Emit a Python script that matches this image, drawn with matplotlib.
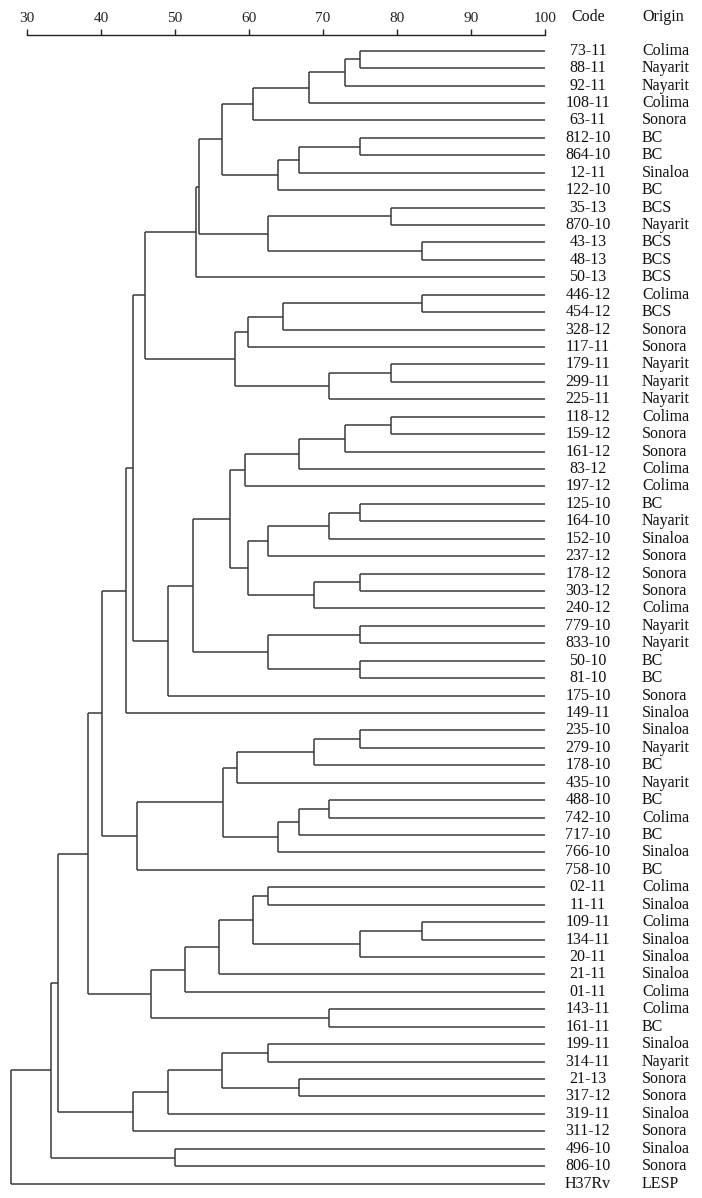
import matplotlib
matplotlib.use("Agg")
import matplotlib.pyplot as plt
from matplotlib import transforms

codes = ["73-11", "88-11", "92-11", "108-11", "63-11", "812-10", "864-10", "12-11",
         "122-10", "35-13", "870-10", "43-13", "48-13", "50-13", "446-12", "454-12",
         "328-12", "117-11", "179-11", "299-11", "225-11", "118-12", "159-12", "161-12",
         "83-12", "197-12", "125-10", "164-10", "152-10", "237-12", "178-12", "303-12",
         "240-12", "779-10", "833-10", "50-10", "81-10", "175-10", "149-11", "235-10",
         "279-10", "178-10", "435-10", "488-10", "742-10", "717-10", "766-10", "758-10",
         "02-11", "11-11", "109-11", "134-11", "20-11", "21-11", "01-11", "143-11",
         "161-11", "199-11", "314-11", "21-13", "317-12", "319-11", "311-12", "496-10",
         "806-10", "H37Rv"]

origins = ["Colima", "Nayarit", "Nayarit", "Colima", "Sonora", "BC", "BC", "Sinaloa",
           "BC", "BCS", "Nayarit", "BCS", "BCS", "BCS", "Colima", "BCS",
           "Sonora", "Sonora", "Nayarit", "Nayarit", "Nayarit", "Colima", "Sonora", "Sonora",
           "Colima", "Colima", "BC", "Nayarit", "Sinaloa", "Sonora", "Sonora", "Sonora",
           "Colima", "Nayarit", "Nayarit", "BC", "BC", "Sonora", "Sinaloa", "Sinaloa",
           "Nayarit", "BC", "Nayarit", "BC", "Colima", "BC", "Sinaloa", "BC",
           "Colima", "Sinaloa", "Colima", "Sinaloa", "Sinaloa", "Sinaloa", "Colima", "Colima",
           "BC", "Sinaloa", "Nayarit", "Sonora", "Sonora", "Sinaloa", "Sonora", "Sinaloa",
           "Sonora", "LESP"]

# linkage: children ids (< n_leaves -> leaf, else merge index + n_leaves), similarity (%)
merge_a = [0, 66, 67, 68, 5, 70, 71, 69, 9, 11, 74, 73, 77, 14, 79, 80, 18, 82, 81, 78,
           21, 86, 87, 88, 26, 90, 91, 30, 93, 92, 89, 33, 35, 97, 96, 100, 85, 102,
           39, 104, 105, 43, 107, 108, 106, 110, 103, 48, 50, 114, 113, 116, 117, 55,
           118, 112, 57, 59, 122, 124, 125, 121, 63, 127, 129]
merge_b = [1, 2, 3, 4, 6, 7, 8, 72, 10, 12, 75, 76, 13, 15, 16, 17, 19, 20, 83, 84,
           22, 23, 24, 25, 27, 28, 29, 31, 32, 94, 95, 34, 36, 98, 99, 37, 101, 38,
           40, 41, 42, 44, 45, 46, 109, 47, 111, 49, 51, 52, 115, 53, 54, 56,
           119, 120, 58, 60, 123, 61, 62, 126, 64, 128, 65]
merge_h = [75.0, 73.0, 68.1, 60.5, 75.0, 66.7, 63.9, 56.4, 79.25, 83.4, 62.5, 53.3, 52.9,
           83.4, 64.6, 59.8, 79.25, 70.85, 58.1, 45.9,
           79.25, 73.0, 66.7, 59.4, 75.0, 70.85, 62.5, 75.0, 68.8, 59.8, 57.4, 75.0, 75.0,
           62.5, 52.4, 49.0, 44.3, 43.4,
           75.0, 68.8, 58.4, 70.85, 66.7, 63.9, 56.5, 44.9, 40.2, 62.5, 83.4, 75.0,
           60.5, 55.9, 51.4, 70.85, 46.8, 38.3, 62.5, 66.7, 56.3, 49.0, 44.3, 34.2,
           50.0, 33.3, 27.8]

tick_values = [30, 40, 50, 60, 70, 80, 90, 100]

W, H = 702, 1198
fig = plt.figure(figsize=(W / 100, H / 100), dpi=100)
serif = ["Liberation Serif", "DejaVu Serif"]

# axes geometry (pixels)
x0_px, x1_px = 4.8, 545.0
y_top_px, y_bot_px = 35.0, 1195.0
ax = fig.add_axes([x0_px / W, 1 - y_bot_px / H, (x1_px - x0_px) / W, (y_bot_px - y_top_px) / H])
ax.set_xlim(27, 100)
spacing = 17.43
first_leaf_px = 50.7
ax.set_ylim((y_bot_px - first_leaf_px) / spacing, (y_top_px - first_leaf_px) / spacing)

n = len(codes)
xpos = {i: 100.0 for i in range(n)}
ypos = {i: float(i) for i in range(n)}
lc = "#3a3a3a"
lw = 1.1
for k, (a, b, h) in enumerate(zip(merge_a, merge_b, merge_h)):
    nid = n + k
    ya, yb = ypos[a], ypos[b]
    ax.plot([h, h], [ya, yb], color=lc, lw=lw, solid_capstyle="butt")
    ax.plot([h, xpos[a]], [ya, ya], color=lc, lw=lw, solid_capstyle="butt")
    ax.plot([h, xpos[b]], [yb, yb], color=lc, lw=lw, solid_capstyle="butt")
    xpos[nid] = h
    ypos[nid] = (ya + yb) / 2

for s in ["left", "right", "bottom"]:
    ax.spines[s].set_visible(False)
ax.spines["top"].set_bounds(30, 100)
ax.spines["top"].set_color("#222222")
ax.spines["top"].set_linewidth(1.0)
ax.xaxis.tick_top()
ax.set_xticks(tick_values)
ax.set_xticklabels([str(t) for t in tick_values], fontfamily=serif, fontsize=11)
ax.tick_params(axis="x", direction="out", length=4, width=1.0, pad=3, colors="#222222")
ax.set_yticks([])

trans = transforms.blended_transform_factory(fig.transFigure, ax.transData)
for i, (c, o) in enumerate(zip(codes, origins)):
    ax.text(588 / W, i, c, transform=trans, ha="center", va="center",
            fontfamily=serif, fontsize=11.5, color="#111111", clip_on=False)
    ax.text(642 / W, i, o, transform=trans, ha="left", va="center",
            fontfamily=serif, fontsize=11.5, color="#111111", clip_on=False)

fig.text(588 / W, 1 - 17 / H, "Code", ha="center", va="center",
         fontfamily=serif, fontsize=11.5, color="#111111")
fig.text(642 / W, 1 - 17 / H, "Origin", ha="left", va="center",
         fontfamily=serif, fontsize=11.5, color="#111111")

fig.savefig("out.png", dpi=100)
